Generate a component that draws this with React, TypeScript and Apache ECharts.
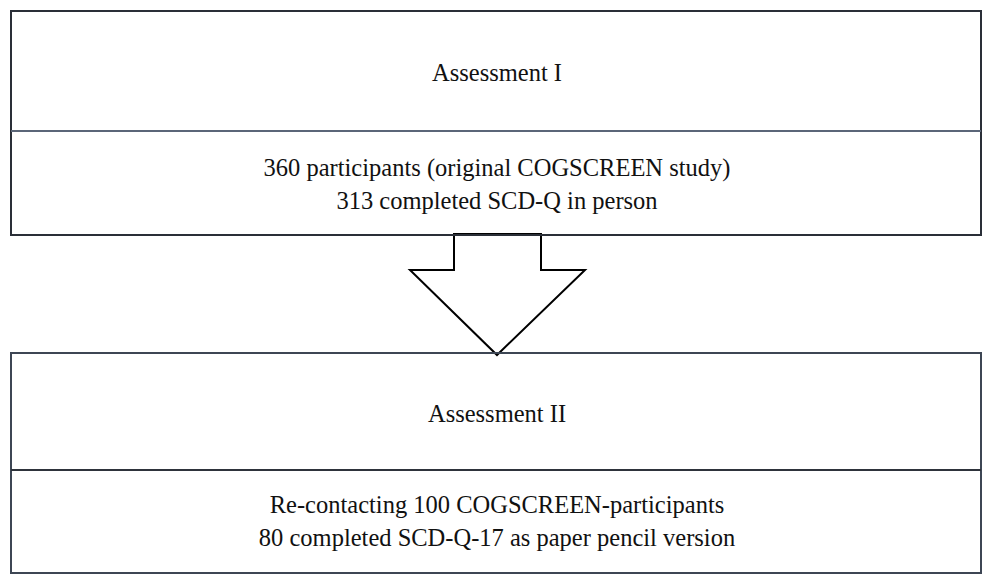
import React, { useEffect, useRef } from "react";
import * as echarts from "echarts";

const boxTitles = ["Assessment I", "Assessment II"];
const boxDetails = [
  ["360 participants (original COGSCREEN study)", "313 completed SCD-Q in person"],
  ["Re-contacting 100 COGSCREEN-participants", "80 completed SCD-Q-17 as paper pencil version"],
];

export default function App() {
  const ref = useRef<HTMLDivElement>(null);
  useEffect(() => {
    if (!ref.current) return;
    const chart = echarts.init(ref.current, null, { renderer: "svg" });
    const L = 11, R = 981, cx = 497;
    const boxes = [
      { top: 11, mid: 131, bottom: 235, off: 0.5 },
      { top: 353, mid: 470, bottom: 573, off: -1 },
    ];
    const font = '"Liberation Serif", "Times New Roman", serif';
    const elems: any[] = [];
    elems.push({
      type: "polygon",
      shape: {
        points: [
          [454, 234], [454, 270], [410, 270], [497, 355], [585, 270], [541, 270], [541, 234],
        ],
      },
      style: { fill: "#fff", stroke: "#000", lineWidth: 2 },
      z: 1,
    });
    boxes.forEach((b, i) => {
      elems.push({
        type: "rect",
        shape: { x: L, y: b.top, width: R - L, height: b.bottom - b.top },
        style: { fill: "none", stroke: i === 0 ? "#2a2f38" : "#3d4654", lineWidth: 2 },
        z: 2,
      });
      elems.push({
        type: "line",
        shape: { x1: L, y1: b.mid, x2: R, y2: b.mid },
        style: { stroke: i === 0 ? "#5b6678" : "#2e333b", lineWidth: 2 },
        z: 2,
      });
      elems.push({
        type: "text",
        x: cx, y: (b.top + b.mid) / 2 + 1.5,
        style: { text: boxTitles[i], fill: "#111", font: `24.5px ${font}`, align: "center", verticalAlign: "middle" },
        z: 3,
      });
      const my = (b.mid + b.bottom) / 2 + b.off;
      boxDetails[i].forEach((t, j) => {
        elems.push({
          type: "text",
          x: cx, y: my + (j === 0 ? -16.5 : 16.5),
          style: { text: t, fill: "#111", font: `24.5px ${font}`, align: "center", verticalAlign: "middle" },
          z: 3,
        });
      });
    });
    chart.setOption({ animation: false, backgroundColor: "#fff", graphic: elems });
    return () => chart.dispose();
  }, []);
  return (
    <div
      ref={ref}
      style={{ position: "absolute", left: 0, top: 0, width: 982, height: 574 }}
    />
  );
}
